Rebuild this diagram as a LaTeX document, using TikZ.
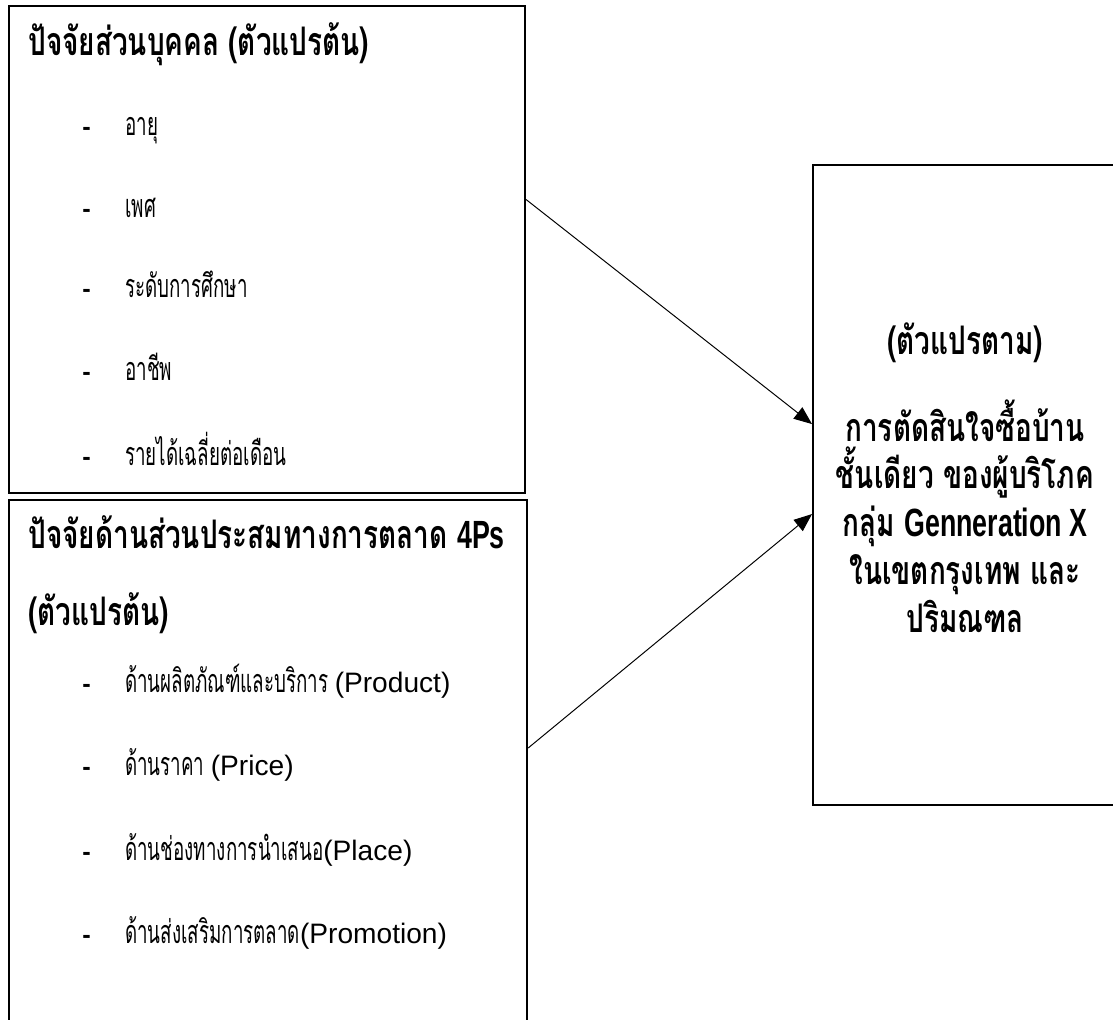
\documentclass[tikz,border=0pt]{standalone}
\usepackage{fontspec}
\usepackage{tikz}
\usetikzlibrary{arrows.meta}
\setmainfont{Liberation Sans}
\newfontfamily\thaihead[Script=Thai,FakeStretch=0.71]{Loma}
\newfontfamily\thaicond[Script=Thai,FakeStretch=0.58]{Loma}
\newfontfamily\lathead[FakeStretch=0.68]{Liberation Sans}
\newcommand{\lat}[1]{{\normalfont\fontsize{20}{24}\selectfont #1}}
\newcommand{\hlat}[1]{{\lathead\bfseries #1}}

\begin{document}
\begin{tikzpicture}[x=0.025cm,y=-0.025cm,
    box/.style={draw, line width=1.4pt, anchor=north west, inner sep=0pt},
    head/.style={anchor=base west, inner sep=0pt, font=\thaihead\bfseries\fontsize{28}{34}\selectfont},
    item/.style={anchor=base west, inner sep=0pt, font=\thaicond\fontsize{23}{26}\selectfont},
    bullet/.style={anchor=base west, inner sep=0pt, font=\bfseries\fontsize{18}{20}\selectfont},
    res/.style={inner sep=0pt, align=center, font=\thaihead\bfseries\fontsize{28}{34}\selectfont},
    link/.style={-{Triangle[length=4.5mm,width=3.6mm]}, line width=0.7pt}]
\clip (0,0) rectangle (1113,1020);

\node[box, minimum width=12.9cm, minimum height=12.175cm] (pers) at (8,5) {};
\node[box, minimum width=12.95cm, minimum height=13.65cm] (mix) at (8,499) {};
\node[box, minimum width=7.65cm, minimum height=16cm] (dep) at (812,164) {};

\node[head] (t1) at (28,55) {ปัจจัยส่วนบุคคล (ตัวแปรต้น)};
\foreach \y/\t [count=\i] in {135/อายุ, 217/เพศ, 297/ระดับการศึกษา, 380/อาชีพ, 465/รายได้เฉลี่ยต่อเดือน}{
    \node[bullet] (d1\i) at (82,\y) {-};
    \node[item] (a\i) at (125,\y) {\t};
}

\node[head] (t2) at (28,548) {ปัจจัยด้านส่วนประสมทางการตลาด \hlat{4Ps}};
\node[head] (t3) at (28,625) {(ตัวแปรต้น)};
\foreach \y/\t [count=\i] in {692/{ด้านผลิตภัณฑ์และบริการ \lat{(Product)}},
    775/{ด้านราคา \lat{(Price)}},
    860/{ด้านช่องทางการนำเสนอ\lat{(Place)}},
    943/{ด้านส่งเสริมการตลาด\lat{(Promotion)}}}{
    \node[bullet] (d2\i) at (82,\y) {-};
    \node[item] (b\i) at (125,\y) {\t};
}

\node[res] (r0) at (965,343) {(ตัวแปรตาม)};
\node[res] (r1) at (965,516) {การตัดสินใจซื้อบ้าน\\ชั้นเดียว ของผู้บริโภค\\กลุ่ม \hlat{Genneration X}\\ในเขตกรุงเทพ และ\\ปริมณฑล};

\draw[link] ([yshift=1.25cm]pers.east) -- ([yshift=1.525cm]dep.west);
\draw[link] ([yshift=0.625cm]mix.east) -- ([yshift=-0.725cm]dep.west);
\end{tikzpicture}
\end{document}
